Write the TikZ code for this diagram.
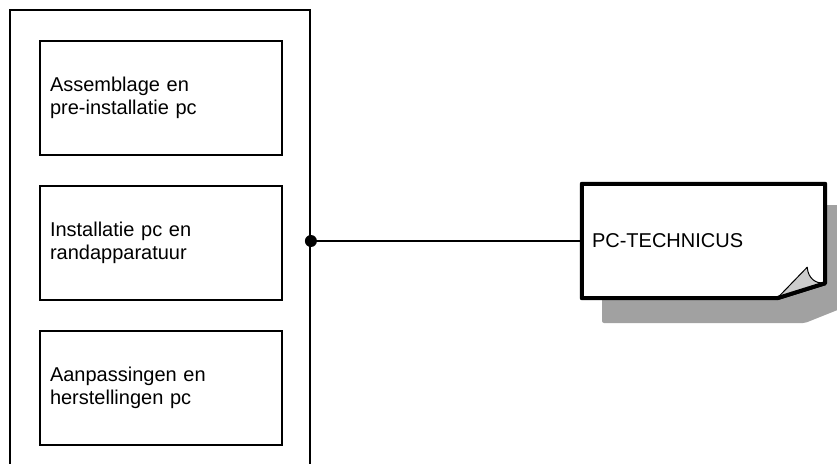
\documentclass[tikz,border=0pt]{standalone}
\usepackage{fontspec}
\setmainfont{Liberation Sans}
\usetikzlibrary{positioning}
\tikzset{
    unitbox/.style={draw, line width=1.8pt, minimum width=300pt, minimum height=480pt},
    taskbox/.style={draw, line width=1.8pt, minimum width=242pt, minimum height=114pt,
      text width=222pt, inner sep=10pt, align=left,
      font=\fontsize{20}{23}\selectfont},
    rolenote/.style={minimum width=243pt, minimum height=114pt,
      text width=223pt, inner sep=10pt, align=left,
      font=\fontsize{20}{23}\selectfont},
    joint/.style={circle, fill, inner sep=0pt, minimum size=12pt}
}
\begin{document}
\begin{tikzpicture}[x=1pt, y=-1pt]
  \useasboundingbox (0,0) rectangle (837,463);
  % functie-eenheid met taken
  \node[unitbox] (unit) at (160,250) {};
  \node[taskbox] (box1) at (161,98) {Assemblage en\\pre-installatie pc};
  \node[taskbox, below=29pt of box1] (box2) {Installatie pc en\\randapparatuur};
  \node[taskbox, below=29pt of box2] (box3) {Aanpassingen en\\herstellingen pc};
  % rol
  \node[rolenote] (tech) at (703.5,241) {};
  \fill[black!37, rounded corners=2pt] (602,205) -- (850,205) -- (850,305)
    -- (805,323) -- (602,323) -- cycle;
  \filldraw[fill=white, line width=4pt, line join=round]
    (tech.north west) -- (tech.north east) -- ([shift={(0,-15)}]tech.south east)
    -- ([shift={(-48,0)}]tech.south east) -- (tech.south west) -- cycle;
  \filldraw[fill=black!20, line width=1pt, line join=round]
    ([shift={(-48,0)}]tech.south east) -- ([shift={(-18,-31)}]tech.south east)
    .. controls ([shift={(-17,-19)}]tech.south east) and ([shift={(-9,-15)}]tech.south east)
    .. ([shift={(-2,-15)}]tech.south east) -- cycle;
  \draw[line width=4pt, line join=round]
    ([shift={(0,-15)}]tech.south east) -- ([shift={(-48,0)}]tech.south east);
  \node[rolenote] at (tech) {PC-TECHNICUS};
  % verbinding
  \draw[line width=1.8pt] (tech.west -| unit.east) -- (tech.west);
  \node[joint] (dot) at (tech.west -| unit.east) {};
\end{tikzpicture}
\end{document}
